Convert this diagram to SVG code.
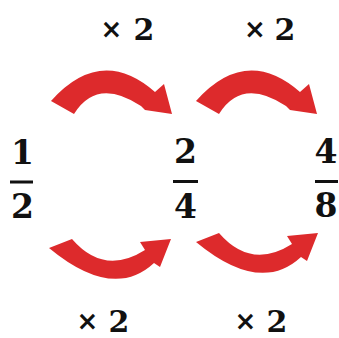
<svg xmlns="http://www.w3.org/2000/svg" width="339" height="338" viewBox="0 0 339 338">
  <style>
    .arrow { fill: #dd2a2c; }
    .num { font-family: "DejaVu Serif", "Liberation Serif", serif; font-weight: bold; font-size: 33px; fill: #111; text-anchor: middle; }
    .lbl { font-family: "DejaVu Serif", "Liberation Serif", serif; font-weight: bold; font-size: 30px; fill: #111; text-anchor: middle; }
    .times { font-family: "DejaVu Sans", "Liberation Sans", sans-serif; font-weight: bold; font-size: 26px; }
    .bar { fill: #111; }
  </style>
  <defs>
    <path id="topArrow" d="M51,101 Q101,45 155,92 L164,84 L172,114 L145,110 L141,106 Q97,77 74,114 Z"/>
    <path id="botArrow" d="M49,248 Q113,301 154,263 L160,267 L171,239 L140,242 L145,250 Q104,276 72,239 Z"/>
  </defs>
  <rect width="339" height="338" fill="#fff"/>
  <g id="connectors">
    <use href="#topArrow" class="arrow"/>
    <use href="#topArrow" class="arrow" transform="translate(145,0)"/>
    <use href="#botArrow" class="arrow"/>
    <use href="#botArrow" class="arrow" transform="translate(147,-6)"/>
  </g>
  <g id="frac1">
    <text class="num" x="22.5" y="164">1</text>
    <rect class="bar" x="10" y="180.5" width="23" height="3"/>
    <text class="num" x="22.5" y="218">2</text>
  </g>
  <g id="frac2">
    <text class="num" x="185.5" y="163">2</text>
    <rect class="bar" x="173" y="180" width="25" height="3"/>
    <text class="num" x="185.5" y="218">4</text>
  </g>
  <g id="frac3">
    <text class="num" x="326" y="163">4</text>
    <rect class="bar" x="315" y="180" width="23" height="3"/>
    <text class="num" x="326" y="217">8</text>
  </g>
  <g id="label-top-left">
    <text class="lbl"><tspan class="times" x="111.5" y="38">×</tspan><tspan x="144" y="40">2</tspan></text>
  </g>
  <g id="label-top-right">
    <text class="lbl"><tspan class="times" x="255" y="38">×</tspan><tspan x="285" y="40">2</tspan></text>
  </g>
  <g id="label-bottom-left">
    <text class="lbl"><tspan class="times" x="87.5" y="330">×</tspan><tspan x="119" y="332">2</tspan></text>
  </g>
  <g id="label-bottom-right">
    <text class="lbl"><tspan class="times" x="245.5" y="330">×</tspan><tspan x="277" y="332">2</tspan></text>
  </g>
</svg>
